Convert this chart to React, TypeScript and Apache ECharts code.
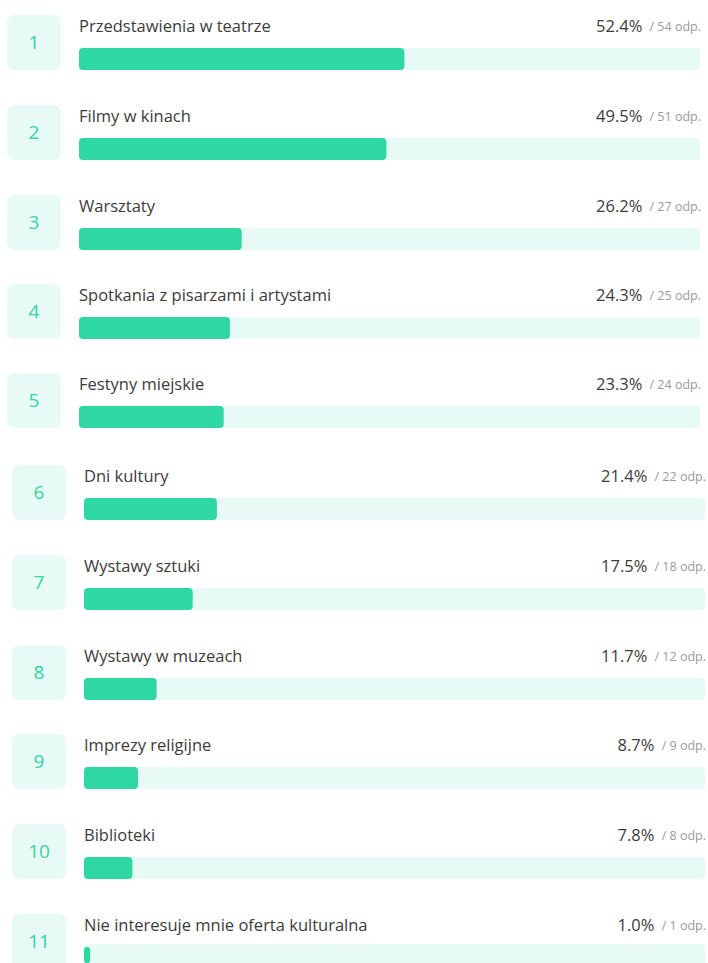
import React, { useEffect, useRef } from "react";
import * as echarts from "echarts";

// ---- data ----
const categories: string[] = [
  "Przedstawienia w teatrze",
  "Filmy w kinach",
  "Warsztaty",
  "Spotkania z pisarzami i artystami",
  "Festyny miejskie",
  "Dni kultury",
  "Wystawy sztuki",
  "Wystawy w muzeach",
  "Imprezy religijne",
  "Biblioteki",
  "Nie interesuje mnie oferta kulturalna",
];
const percents: number[] = [52.4, 49.5, 26.2, 24.3, 23.3, 21.4, 17.5, 11.7, 8.7, 7.8, 1.0];
const counts: number[] = [54, 51, 27, 25, 24, 22, 18, 12, 9, 8, 1];
const ranks: string[] = ["1", "2", "3", "4", "5", "6", "7", "8", "9", "10", "11"];

// ---- layout ----
const ROW_TOPS = [15, 105, 195, 284, 373, 465, 555, 645, 734, 824, 914];
const X_SHIFT = [0, 0, 0, 0, 0, 5, 5, 5, 5, 5, 5];
const TRACK_LEFT = 79;
const TRACK_WIDTH = 621;
const BAR_OFFSET = 33;
const BAR_H = 22;
const FONT = "'Open Sans', 'Noto Sans', sans-serif";
const GREEN = "#2fd7a2";
const MINT = "#e8faf5";
const TEXT = "#3c3c3c";

export default function App() {
  const ref = useRef<HTMLDivElement>(null);
  useEffect(() => {
    if (!ref.current) return;
    const chart = echarts.init(ref.current, undefined, { renderer: "svg" });
    const grids: any[] = [];
    const xAxes: any[] = [];
    const yAxes: any[] = [];
    const series: any[] = [];
    const graphics: any[] = [];
    categories.forEach((name, i) => {
      const top = ROW_TOPS[i];
      const dx = X_SHIFT[i];
      grids.push({
        left: TRACK_LEFT + dx,
        top: top + BAR_OFFSET,
        width: TRACK_WIDTH,
        height: BAR_H,
        containLabel: false,
      });
      xAxes.push({ gridIndex: i, type: "value", min: 0, max: 100, show: false });
      yAxes.push({ gridIndex: i, type: "category", data: [name], show: false });
      series.push({
        type: "bar",
        xAxisIndex: i,
        yAxisIndex: i,
        data: [percents[i]],
        barWidth: BAR_H,
        showBackground: true,
        backgroundStyle: { color: MINT, borderRadius: 4 },
        itemStyle: { color: GREEN, borderRadius: 4 },
        silent: true,
      });
      // rank box
      graphics.push({
        type: "rect",
        shape: { x: 7 + dx, y: top, width: 54, height: 55, r: 7 },
        style: { fill: MINT },
      });
      graphics.push({
        type: "text",
        x: 34 + dx,
        y: top + 27,
        style: {
          text: ranks[i],
          fill: GREEN,
          font: `19px ${FONT}`,
          align: "center",
          verticalAlign: "middle",
        },
      });
      // category label
      graphics.push({
        type: "text",
        x: TRACK_LEFT + dx,
        y: top + 10,
        style: {
          text: name,
          fill: TEXT,
          font: `16.5px ${FONT}`,
          align: "left",
          verticalAlign: "middle",
        },
      });
      // percent + count
      graphics.push({
        type: "text",
        x: TRACK_LEFT + dx + TRACK_WIDTH + 1,
        y: top + 10,
        style: {
          text: `{p|${percents[i].toFixed(1)}%}{s| / ${counts[i]} odp.}`,
          align: "right",
          verticalAlign: "middle",
          rich: {
            p: { fill: TEXT, fontSize: 16.5, fontFamily: FONT },
            s: { fill: "#9a9a9a", fontSize: 12.5, fontFamily: FONT, padding: [3, 0, 0, 4] },
          },
        },
      });
    });
    chart.setOption({
      animation: false,
      backgroundColor: "#ffffff",
      grid: grids,
      xAxis: xAxes,
      yAxis: yAxes,
      series,
      graphic: { elements: graphics },
    });
    return () => chart.dispose();
  }, []);
  return (
    <div
      ref={ref}
      style={{ position: "absolute", left: 0, top: 0, width: 708, height: 963 }}
    />
  );
}
